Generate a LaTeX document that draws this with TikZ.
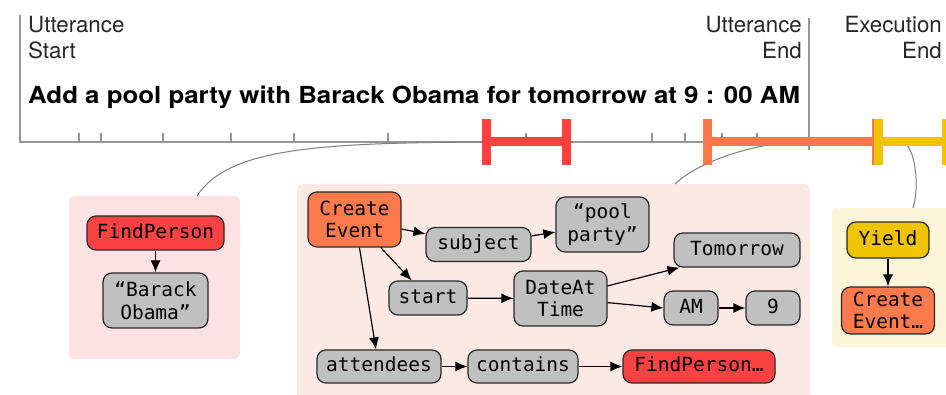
\documentclass[tikz,border=0pt]{standalone}
\usepackage{fontspec}
\newfontfamily\hv{TeX Gyre Heros}
\newfontfamily\hvwide[FakeStretch=1.1]{TeX Gyre Heros}
\newfontfamily\mono{DejaVu Sans Mono}
\usetikzlibrary{arrows.meta}

\definecolor{ink}{RGB}{40,40,40}
\definecolor{axisgray}{RGB}{150,150,150}
\definecolor{linkgray}{RGB}{125,125,125}
\definecolor{fnred}{RGB}{250,66,66}
\definecolor{fnorange}{RGB}{252,122,76}
\definecolor{fnyellow}{RGB}{240,196,0}
\definecolor{valgray}{RGB}{192,192,192}
\definecolor{bgred}{RGB}{253,226,228}
\definecolor{bgorange}{RGB}{253,233,228}
\definecolor{bgyellow}{RGB}{252,245,217}
\definecolor{tlred}{RGB}{252,64,64}
\definecolor{tlorange}{RGB}{252,120,75}
\definecolor{tlyellow}{RGB}{241,196,0}

\tikzset{
  axisline/.style={draw=axisgray, line width=1.3pt},
  link/.style={draw=linkgray, line width=1pt},
  bar/.style={line width=9pt, line cap=butt},
  lbl/.style={font=\hv\fontsize{22.3}{25.5}\selectfont, inner sep=0pt, text=black!85},
  headline/.style={font=\hvwide\bfseries\fontsize{23.5}{26}\selectfont, inner sep=0pt},
  panel/.style={draw=none, rounded corners=6pt, inner sep=0pt},
  tok/.style={draw=ink, line width=1.2pt, rounded corners=9pt,
    font=\mono\fontsize{19.5}{22.5}\selectfont, align=center,
    inner xsep=3pt, inner ysep=2pt, fill=valgray},
  one/.style={text height=14.5pt, text depth=3.5pt, minimum height=34pt},
  arr/.style={draw=black, line width=1.2pt, -{Latex[length=12pt,width=10pt]}},
}

\begin{document}
\begin{tikzpicture}[x=1pt,y=-1pt]
\useasboundingbox (0,0) rectangle (946,395);
\fill[white] (0,0) rectangle (946,395);
\clip (0,0) rectangle (946,395);

% ---- time axis ----
\draw[axisline] (20,15) -- (20,142) -- (946,142);
\foreach \t in {79,101,163,231,294,388,526,652,685,722,757}
  \draw[axisline] (\t,133) -- (\t,142);
\draw[axisline] (809,18) -- (809,150);

% ---- labels (base anchor sits on the last line) ----
\node[lbl, anchor=base west, align=left] (ustart) at (28,58.5) {Utterance\\Start};
\node[lbl, anchor=base east, align=right] (uend) at (802,58.5) {Utterance\\End};
\node[lbl, anchor=base east, align=right] (eend) at (942,58.5) {Execution\\End};
\node[headline, anchor=base west] (utt) at (28,104)
  {Add a pool party with Barack Obama for tomorrow at 9 : 00 AM};

% ---- panels ----
\node[panel, fill=bgred, minimum width=171pt, minimum height=163pt] (p1) at (154.5,277.5) {};
\node[panel, fill=bgorange, minimum width=513pt, minimum height=216pt] (p2) at (553.5,292) {};
\node[panel, fill=bgyellow, minimum width=128pt, minimum height=139pt] (p3) at (896,277.5) {};

% ---- links from time spans to panels ----
\coordinate (s1) at (526,142);
\coordinate (s2) at (800,142);
\coordinate (s3) at (902,142);
\coordinate (p1top) at (197,196);
\coordinate (p2top) at (675,184);
\coordinate (p3top) at (913,208);
\draw[link] (s1) .. controls (330,142) and (230,145) .. (p1top);
\draw[link] (s2) .. controls (760,142) and (700,160) .. (p2top);
\draw[link] (s3) .. controls (915,145) and (920,185) .. (p3top);

% ---- execution spans ----
\draw[bar, tlred] (486,142) -- (567,142);
\draw[bar, tlred] (486.5,119) -- (486.5,165);
\draw[bar, tlred] (566.5,119) -- (566.5,165);
\draw[bar, tlorange] (707,142) -- (877,142);
\draw[bar, tlorange] (707.5,119) -- (707.5,165);
\draw[bar, tlorange] (876.5,119) -- (876.5,165);
\draw[bar, tlyellow] (878,142) -- (950,142);
\draw[bar, tlyellow] (878.5,119) -- (878.5,165);
\draw[bar, tlyellow] (946.5,119) -- (946.5,165);

% ---- FindPerson panel ----
\node[tok, one, fill=fnred, minimum width=137pt] (fp1) at (155.5,233) {FindPerson};
\node[tok, minimum width=105pt, minimum height=55pt] (bo) at (155.5,300.5) {“Barack\\Obama”};
\draw[arr] (fp1) -- (bo);

% ---- CreateEvent panel ----
\node[tok, fill=fnorange, minimum width=93pt, minimum height=55pt] (ce) at (354.5,219.5) {Create\\Event};
\node[tok, one, minimum width=105pt] (subj) at (478.5,244.5) {subject};
\node[tok, minimum width=93pt, minimum height=55pt] (pp) at (602.5,224.5) {“pool\\party”};
\node[tok, one, minimum width=78pt] (start) at (428,298) {start};
\node[tok, minimum width=93pt, minimum height=55pt] (dat) at (560.5,298.5) {DateAt\\Time};
\node[tok, one, minimum width=126pt] (tom) at (737,250) {Tomorrow};
\node[tok, one, minimum width=54pt] (am) at (691,308) {AM};
\node[tok, one, minimum width=54pt] (nine) at (773,308) {9};
\node[tok, one, minimum width=124pt, minimum height=33pt] (att) at (379,366.5) {attendees};
\node[tok, one, minimum width=110pt, minimum height=33pt] (cont) at (523,366.5) {contains};
\node[tok, one, fill=fnred, minimum width=152pt, minimum height=33pt] (fp2) at (699,366.5) {FindPerson…};

\draw[arr] (ce) -- (subj);
\draw[arr] (subj) -- (pp);
\draw[arr] (ce) -- (start);
\draw[arr] (start) -- (dat);
\draw[arr] (dat.15) -- (tom.197);
\draw[arr] (dat.-5) -- (am.west);
\draw[arr] (am) -- (nine);
\draw[arr] (ce.-80) -- (att.100);
\draw[arr] (att) -- (cont);
\draw[arr] (cont) -- (fp2);

% ---- Yield panel ----
\node[tok, one, fill=fnyellow, minimum width=82pt, minimum height=36pt] (yield) at (888,240) {Yield};
\node[tok, fill=fnorange, minimum width=93pt, minimum height=47pt] (ce2) at (888,310.5) {Create\\Event…};
\draw[arr] (yield) -- (ce2);
\end{tikzpicture}
\end{document}
